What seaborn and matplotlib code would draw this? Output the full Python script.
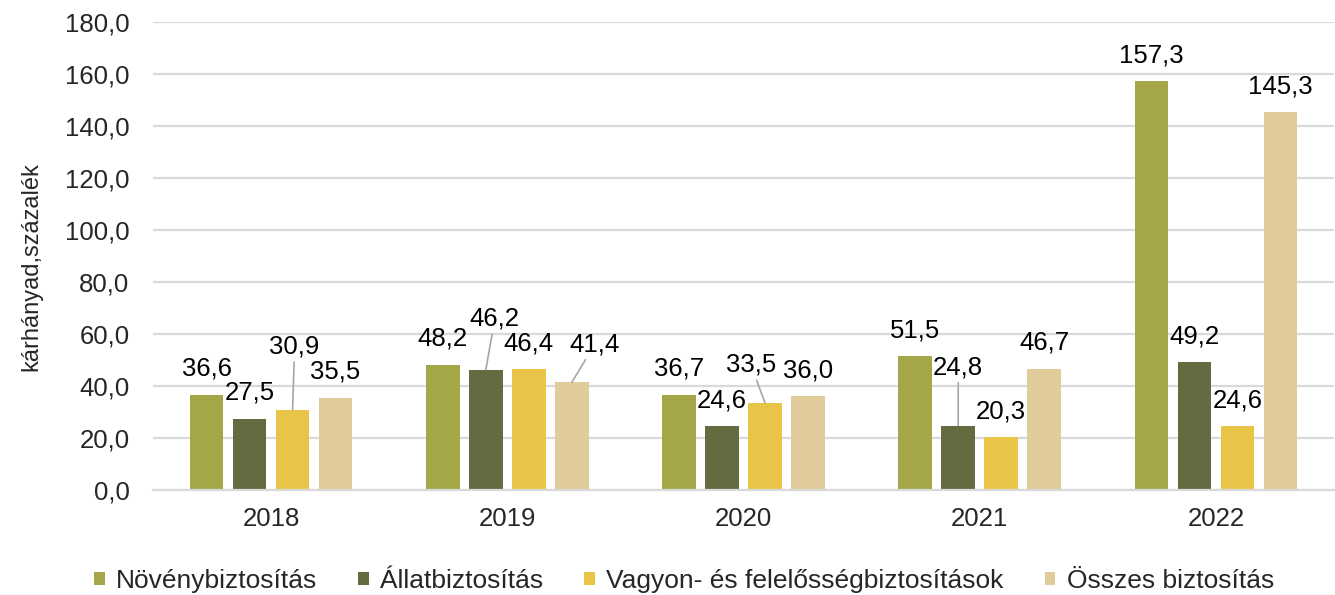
import matplotlib
matplotlib.use("Agg")
import matplotlib.pyplot as plt
import seaborn as sns
import pandas as pd

years = ["2018", "2019", "2020", "2021", "2022"]
series = ["Növénybiztosítás", "Állatbiztosítás", "Vagyon- és felelősségbiztosítások", "Összes biztosítás"]
noveny = [36.6, 48.2, 36.7, 51.5, 157.3]
allat = [27.5, 46.2, 24.6, 24.8, 49.2]
vagyon = [30.9, 46.4, 33.5, 20.3, 24.6]
osszes = [35.5, 41.4, 36.0, 46.7, 145.3]
yticks = [0, 20, 40, 60, 80, 100, 120, 140, 160, 180]
ylabel = "kárhányad,százalék"
colors = ["#A4A648", "#656B41", "#E8C547", "#E0CC9A"]

values = [noveny, allat, vagyon, osszes]
rows = []
for s, vals in zip(series, values):
    for y, v in zip(years, vals):
        rows.append({"year": y, "series": s, "value": v})
df = pd.DataFrame(rows)

# label offsets in pixels (dx, dy) relative to bar top; leader line for special ones
default_off = (0, 26)
special_off = {
    ("2018", 2): (2, 63),
    ("2019", 1): (9, 51),
    ("2019", 3): (23, 38),
    ("2020", 2): (-14, 38),
    ("2021", 1): (0, 58),
}

sns.set_style("white")
plt.rcParams["font.family"] = ["Liberation Sans", "DejaVu Sans"]

fig = plt.figure(figsize=(13.35, 5.95), dpi=100)
ax = fig.add_axes([153 / 1335, 1 - 490 / 595, (1334 - 153) / 1335, 468 / 595])

sns.barplot(data=df, x="year", y="value", hue="series", hue_order=series,
            order=years, palette=colors, width=0.728, gap=0.22,
            saturation=1, linewidth=0, ax=ax, legend=True)

ax.set_xlim(-0.5, 4.5)
ax.set_ylim(0, 180)
ax.set_yticks(yticks)
ax.set_yticklabels([f"{t:.1f}".replace(".", ",") for t in yticks], fontsize=18.5)
ax.tick_params(axis="y", length=0, pad=17)
ax.tick_params(axis="x", length=0, pad=12, labelsize=18.5)
ax.set_xlabel("")
ax.set_ylabel("")
ax.yaxis.grid(True, color="#D9D9D9", linewidth=1.6)
ax.set_axisbelow(True)
for sp in ["top", "right", "left"]:
    ax.spines[sp].set_visible(False)
ax.spines["bottom"].set_color("#D9D9D9")
ax.spines["bottom"].set_linewidth(1.6)

for si, cont in enumerate(ax.containers):
    for yi, bar in enumerate(cont):
        v = values[si][yi]
        x = bar.get_x() + bar.get_width() / 2
        key = (years[yi], si)
        txt = f"{v:.1f}".replace(".", ",")
        if key in special_off:
            dx, dy = special_off[key]
            ax.annotate(txt, xy=(x, v), xytext=(dx, dy), textcoords="offset pixels",
                        ha="center", va="center", fontsize=18.5, color="#000000",
                        arrowprops=dict(arrowstyle="-", color="#A6A6A6", lw=1.2,
                                        shrinkA=0, shrinkB=0))
        else:
            dx, dy = default_off
            ax.annotate(txt, xy=(x, v), xytext=(dx, dy), textcoords="offset pixels",
                        ha="center", va="center", fontsize=18.5, color="#000000")

handles, labels = ax.get_legend_handles_labels()
ax.get_legend().remove()
fig.legend(handles, labels, loc="center", bbox_to_anchor=(684 / 1335, 1 - 581 / 595),
           ncol=4, frameon=False, fontsize=19, handlelength=0.4, handleheight=0.4,
           handletextpad=0.43, columnspacing=1.56, borderaxespad=0, borderpad=0)

fig.text(31 / 1335, 1 - 267 / 595, ylabel, rotation=90, ha="center", va="center", fontsize=17)

fig.savefig("out.png", dpi=100)
